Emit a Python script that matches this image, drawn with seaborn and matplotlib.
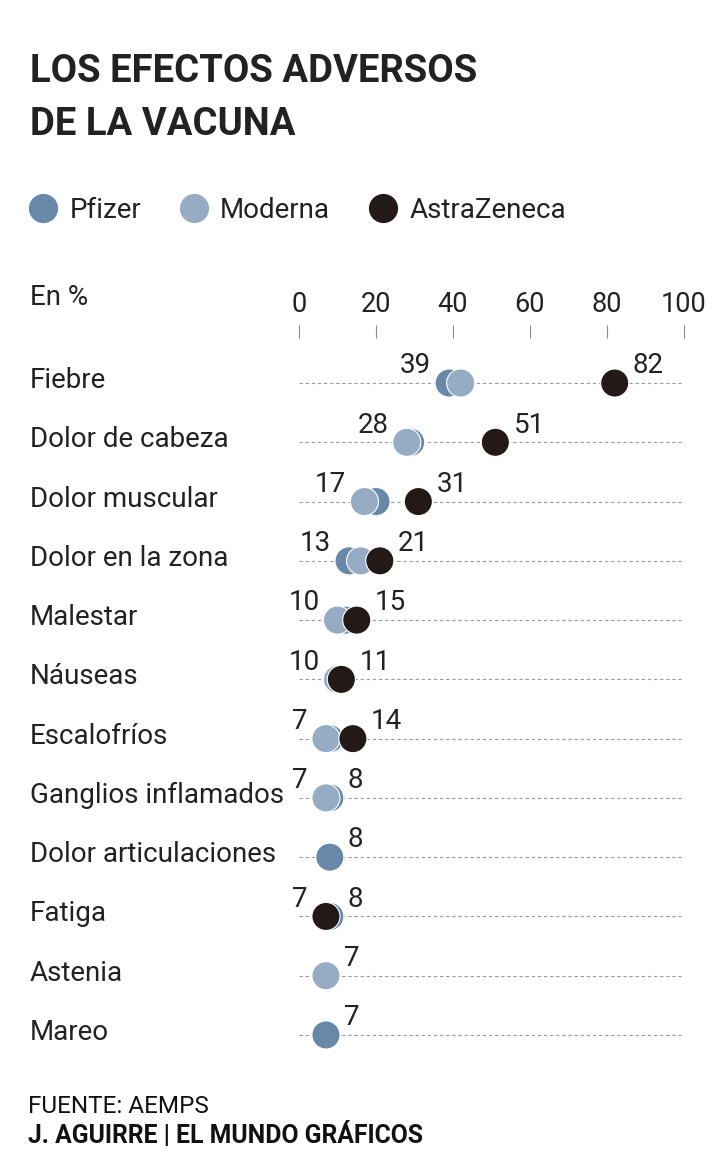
import numpy as np
import pandas as pd
import matplotlib
matplotlib.use("Agg")
import matplotlib.pyplot as plt
import seaborn as sns
from matplotlib import transforms
from matplotlib.lines import Line2D

# Data (percent of people reporting each effect)
categories = ["Fiebre", "Dolor de cabeza", "Dolor muscular", "Dolor en la zona",
              "Malestar", "Náuseas", "Escalofríos", "Ganglios inflamados",
              "Dolor articulaciones", "Fatiga", "Astenia", "Mareo"]
pfizer = [39, 29, 20, 13, 12, 10, 8, 8, 8, 8, 7, 7]
moderna = [42, 28, 17, 16, 10, 10, 7, 7, np.nan, np.nan, 7, np.nan]
astrazeneca = [82, 51, 31, 21, 15, 11, 14, np.nan, np.nan, 7, np.nan, np.nan]
vacunas = ["Pfizer", "Moderna", "AstraZeneca"]
colores = {"Pfizer": "#6788a8", "Moderna": "#96acc4", "AstraZeneca": "#231a17"}
xticks = [0, 20, 40, 60, 80, 100]

# Long format for seaborn
df = pd.DataFrame({"sintoma": categories, "pos": range(len(categories)),
                   "Pfizer": pfizer, "Moderna": moderna, "AstraZeneca": astrazeneca})
df = df.melt(id_vars=["sintoma", "pos"], value_vars=vacunas,
             var_name="vacuna", value_name="valor").dropna()

sns.set_style("white")
plt.rcParams["font.family"] = ["Roboto", "DejaVu Sans"]
TXT = "#222222"

W, H = 720, 1164
fig = plt.figure(figsize=(W / 100, H / 100), dpi=100)
ax = fig.add_axes([299 / W, 1 - 1064.6 / H, 385 / W, (1064.6 - 338) / H])

sns.scatterplot(data=df, x="valor", y="pos", hue="vacuna", hue_order=vacunas,
                palette=colores, s=410, edgecolor="white", linewidth=0.8,
                legend=False, ax=ax, zorder=3)

ax.set_xlim(0, 100)
ax.set_ylim(len(categories) - 0.5, -0.76)
ax.set_xlabel("")
ax.set_ylabel("")
for sp in ax.spines.values():
    sp.set_visible(False)

# x axis on top
ax.xaxis.tick_top()
ax.set_xticks(xticks)
ax.set_xticklabels([str(t) for t in xticks])
ax.tick_params(axis="x", length=9.4, width=0.8, color="#8a8a8a", pad=5,
               labelsize=19.5, labelcolor=TXT)

# category labels on the left, aligned at x=30px
ax.set_yticks(range(len(categories)))
ax.set_yticklabels(categories, ha="left", va="baseline")
ax.tick_params(axis="y", length=0, pad=269 * 0.72, labelsize=20, labelcolor=TXT)
shift = transforms.ScaledTranslation(0, -5 / 100, fig.dpi_scale_trans)
for lab in ax.get_yticklabels():
    lab.set_transform(lab.get_transform() + shift)

ax.yaxis.grid(True, linestyle=(0, (3, 2.5)), color="#999999", linewidth=0.8)
ax.xaxis.grid(False)
ax.set_axisbelow(True)

# min / max value labels
for i, cat in enumerate(categories):
    vals = [v for v in (pfizer[i], moderna[i], astrazeneca[i]) if not np.isnan(v)]
    lo, hi = min(vals), max(vals)
    if lo != hi:
        ax.annotate(f"{lo:g}", (lo, i), xytext=(-13, 7), textcoords="offset points",
                    ha="right", va="baseline", fontsize=20, color=TXT)
    ax.annotate(f"{hi:g}", (hi, i), xytext=(13, 7), textcoords="offset points",
                ha="left", va="baseline", fontsize=20, color=TXT)

# Title
fig.text(30 / W, 1 - 82 / H, "LOS EFECTOS ADVERSOS", fontsize=27.5, fontweight="bold",
         color=TXT, va="baseline")
fig.text(30 / W, 1 - 135 / H, "DE LA VACUNA", fontsize=27.5, fontweight="bold",
         color=TXT, va="baseline")

# Legend
handles = [Line2D([], [], marker="o", linestyle="", markersize=20,
                  markerfacecolor=colores[v], markeredgecolor=colores[v]) for v in vacunas]
leg = fig.legend(handles, vacunas, loc="center left", bbox_to_anchor=(29 / W, 1 - 210 / H),
                 ncol=3, frameon=False, fontsize=20, handlelength=1.0, handletextpad=0.45,
                 columnspacing=1.4, borderpad=0, borderaxespad=0)
for t in leg.get_texts():
    t.set_color(TXT)

fig.text(30 / W, 1 - 305 / H, "En %", fontsize=20, color=TXT, va="baseline")

# Footer
fig.text(28 / W, 1 - 1113 / H, "FUENTE: AEMPS", fontsize=17.5, color="#111111", va="baseline")
fig.text(28 / W, 1 - 1143 / H, "J. AGUIRRE | EL MUNDO GRÁFICOS", fontsize=17.8,
         fontweight="bold", color="#111111", va="baseline")

fig.savefig("out.png", dpi=100, facecolor="white")
